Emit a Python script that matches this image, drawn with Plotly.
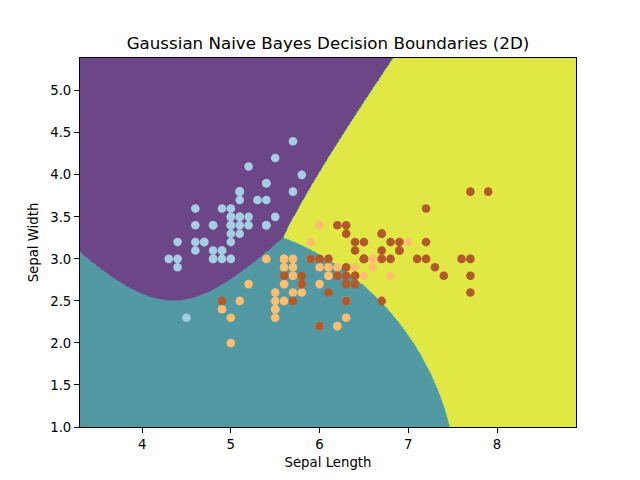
import numpy as np
import plotly.graph_objects as go

# Iris sepal length / width (sklearn version)
sepal_length = [
    5.1,4.9,4.7,4.6,5.0,5.4,4.6,5.0,4.4,4.9,5.4,4.8,4.8,4.3,5.8,5.7,5.4,5.1,5.7,5.1,
    5.4,5.1,4.6,5.1,4.8,5.0,5.0,5.2,5.2,4.7,4.8,5.4,5.2,5.5,4.9,5.0,5.5,4.9,4.4,5.1,
    5.0,4.5,4.4,5.0,5.1,4.8,5.1,4.6,5.3,5.0,
    7.0,6.4,6.9,5.5,6.5,5.7,6.3,4.9,6.6,5.2,5.0,5.9,6.0,6.1,5.6,6.7,5.6,5.8,6.2,5.6,
    5.9,6.1,6.3,6.1,6.4,6.6,6.8,6.7,6.0,5.7,5.5,5.5,5.8,6.0,5.4,6.0,6.7,6.3,5.6,5.5,
    5.5,6.1,5.8,5.0,5.6,5.7,5.7,6.2,5.1,5.7,
    6.3,5.8,7.1,6.3,6.5,7.6,4.9,7.3,6.7,7.2,6.5,6.4,6.8,5.7,5.8,6.4,6.5,7.7,7.7,6.0,
    6.9,5.6,7.7,6.3,6.7,7.2,6.2,6.1,6.4,7.2,7.4,7.9,6.4,6.3,6.1,7.7,6.3,6.4,6.0,6.9,
    6.7,6.9,5.8,6.8,6.7,6.7,6.3,6.5,6.2,5.9,
]
sepal_width = [
    3.5,3.0,3.2,3.1,3.6,3.9,3.4,3.4,2.9,3.1,3.7,3.4,3.0,3.0,4.0,4.4,3.9,3.5,3.8,3.8,
    3.4,3.7,3.6,3.3,3.4,3.0,3.4,3.5,3.4,3.2,3.1,3.4,4.1,4.2,3.1,3.2,3.5,3.6,3.0,3.4,
    3.5,2.3,3.2,3.5,3.8,3.0,3.8,3.2,3.7,3.3,
    3.2,3.2,3.1,2.3,2.8,2.8,3.3,2.4,2.9,2.7,2.0,3.0,2.2,2.9,2.9,3.1,3.0,2.7,2.2,2.5,
    3.2,2.8,2.5,2.8,2.9,3.0,2.8,3.0,2.9,2.6,2.4,2.4,2.7,2.7,3.0,3.4,3.1,2.3,3.0,2.5,
    2.6,3.0,2.6,2.3,2.7,3.0,2.9,2.9,2.5,2.8,
    3.3,2.7,3.0,2.9,3.0,3.0,2.5,2.9,2.5,3.6,3.2,2.7,3.0,2.5,2.8,3.2,3.0,3.8,2.6,2.2,
    3.2,2.8,2.8,2.7,3.3,3.2,2.8,3.0,2.8,3.0,2.8,3.8,2.8,2.8,2.6,3.0,3.4,3.1,3.0,3.1,
    3.1,3.1,2.7,3.2,3.3,3.0,2.5,3.0,3.4,3.0,
]
species = [0]*50 + [1]*50 + [2]*50

# samples held out from fitting (30% test split)
test_indices = [73, 18, 118, 78, 76, 31, 64, 141, 68, 82, 110, 12, 36, 9, 19,
                56, 104, 69, 55, 132, 29, 127, 26, 128, 131, 145, 108, 143, 45, 30,
                22, 15, 65, 11, 42, 146, 51, 27, 4, 32, 142, 85, 86, 16, 10]

point_colors = ["#a6cee3", "#fdbf6f", "#b15928"]
# filled-contour band colours (levels 0, 0.25, ..., 2; viridis at alpha 0.8 over white)
band_colors = ["#6d4688", "#6765a0", "#5c82a4", "#5399a4",
               "#4db4a0", "#66c98f", "#9ddc6e", "#e1e846"]

X = np.column_stack([sepal_length, sepal_width])
y = np.array(species)
train_mask = np.ones(len(y), dtype=bool)
train_mask[test_indices] = False
Xtr, ytr = X[train_mask], y[train_mask]

# Gaussian Naive Bayes fit on training part
eps = 1e-9 * Xtr.var(axis=0).max()
classes = np.unique(ytr)
means = np.array([Xtr[ytr == c].mean(axis=0) for c in classes])
vars_ = np.array([Xtr[ytr == c].var(axis=0) for c in classes]) + eps
priors = np.array([(ytr == c).mean() for c in classes])

h = 0.01
xs = np.arange(X[:, 0].min() - 1, X[:, 0].max() + 1, h)
ys = np.arange(X[:, 1].min() - 1, X[:, 1].max() + 1, h)
xx, yy = np.meshgrid(xs, ys)
pts = np.column_stack([xx.ravel(), yy.ravel()])
jll = []
for k in range(len(classes)):
    ll = np.log(priors[k]) - 0.5 * np.sum(np.log(2 * np.pi * vars_[k])) \
         - 0.5 * np.sum((pts - means[k]) ** 2 / vars_[k], axis=1)
    jll.append(ll)
Z = np.argmax(np.array(jll), axis=0).reshape(xx.shape).astype(float)

cols = [band_colors[0]] + band_colors + [band_colors[-1]]
colorscale = [[i / 9, c] for i, c in enumerate(cols)]

fig = go.Figure()
fig.add_trace(go.Contour(
    x=np.round(xs, 4), y=np.round(ys, 4), z=Z,
    contours=dict(start=1e-6, end=2 + 1e-6, size=0.25, coloring="fill", showlines=False),
    line=dict(width=0, smoothing=0),
    colorscale=colorscale, showscale=False, hoverinfo="skip",
))
fig.add_trace(go.Scatter(
    x=sepal_length, y=sepal_width, mode="markers",
    marker=dict(size=8.6, color=[point_colors[s] for s in species], line=dict(width=0)),
    showlegend=False,
))

axis_common = dict(
    showgrid=False, zeroline=False, showline=True, mirror=True,
    linecolor="black", linewidth=1, ticks="outside", ticklen=5,
    tickwidth=1, tickcolor="black",
    tickfont=dict(family="DejaVu Sans", size=13.3, color="black"),
)
fig.update_layout(
    width=640, height=480,
    margin=dict(l=80, r=64, t=58, b=53),
    paper_bgcolor="white", plot_bgcolor="white",
    font=dict(family="DejaVu Sans", color="black"),
    title=dict(text="Gaussian Naive Bayes Decision Boundaries (2D)",
               x=328/640, xanchor="center", y=1 - 43/480, yanchor="middle",
               yref="container", font=dict(size=16.7, color="black")),
    xaxis=dict(range=[xs.min(), xs.max()], tickvals=[4, 5, 6, 7, 8],
               title=dict(text="Sepal Length", font=dict(size=13.3), standoff=6),
               **axis_common),
    yaxis=dict(range=[ys.min(), ys.max()],
               tickvals=[1.0, 1.5, 2.0, 2.5, 3.0, 3.5, 4.0, 4.5, 5.0],
               ticktext=["1.0", "1.5", "2.0", "2.5", "3.0", "3.5", "4.0", "4.5", "5.0"],
               title=dict(text="Sepal Width", font=dict(size=13.3), standoff=8),
               **axis_common),
)
fig.write_html("out.html")
